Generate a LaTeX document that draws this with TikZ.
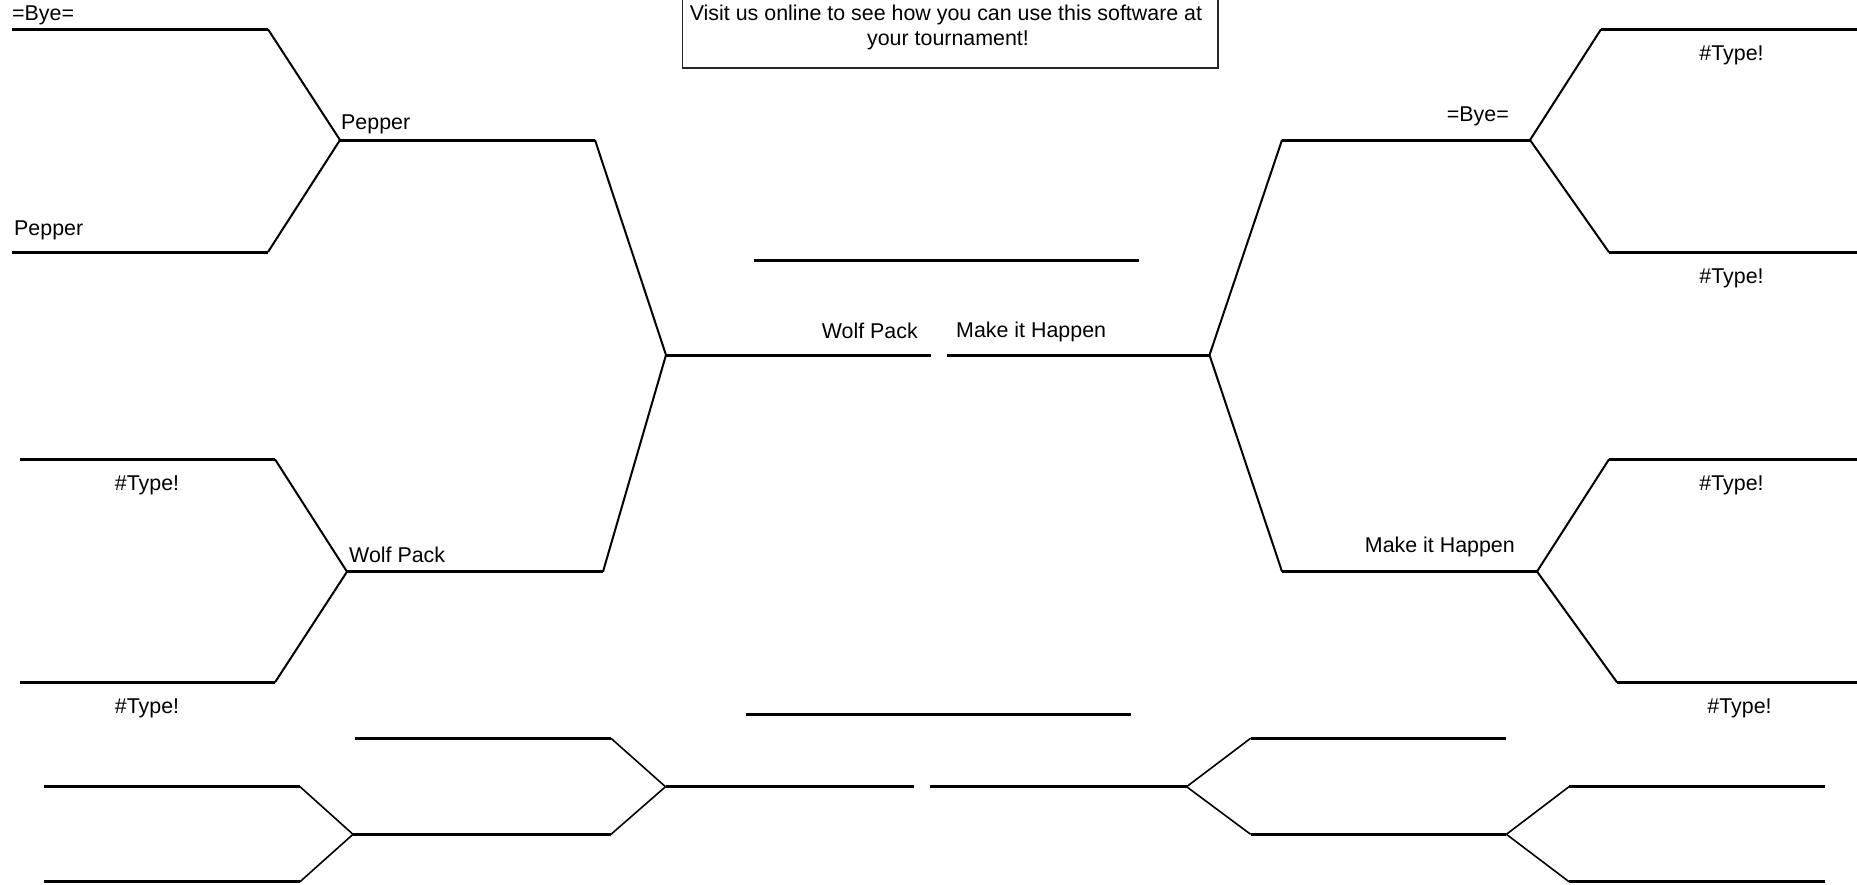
\documentclass[tikz,border=0pt]{standalone}
\usepackage{fontspec}
\setmainfont{Liberation Sans}
\begin{document}
\begin{tikzpicture}[x=1pt,y=-1pt,
  hline/.style={line width=3pt},
  diag/.style={line width=2pt},
  sdiag/.style={line width=1.6pt},
  lbl/.style={inner sep=0pt,font=\fontsize{21.4}{25}\selectfont},
  infobox/.style={draw=black!85,line width=1.2pt}]
\useasboundingbox (0,0) rectangle (1857,884);
\clip (0,0) rectangle (1857,884);
% info box
\draw[infobox] (682.5,-10) rectangle (1218,68);
\node[lbl,anchor=base] (info1) at (946,20.7) {Visit us online to see how you can use this software at};
\node[lbl,anchor=base] (info2) at (948,45.7) {your tournament!};
% ---- left upper
\coordinate (a1) at (12,29.3);   \coordinate (a1e) at (268,29.3);
\coordinate (a2) at (12,252);    \coordinate (a2e) at (268,252);
\coordinate (j1) at (340,140);   \coordinate (j1e) at (595,140);
\coordinate (a3) at (20,459.3);  \coordinate (a3e) at (275,459.3);
\coordinate (a4) at (20,682.3);  \coordinate (a4e) at (275,682.3);
\coordinate (j2) at (347,571.7); \coordinate (j2e) at (603,571.7);
\coordinate (cl) at (666,355);   \coordinate (cle) at (930.5,355);
\coordinate (cr) at (1209.5,355);\coordinate (cre) at (947,355);
\coordinate (tp) at (754,260);   \coordinate (tpe) at (1139,260);
% right
\coordinate (b1) at (1857,29.3);  \coordinate (b1e) at (1601,29.3);
\coordinate (b2) at (1857,252.3); \coordinate (b2e) at (1609,252.3);
\coordinate (j3) at (1530,140);   \coordinate (j3e) at (1282,140);
\coordinate (b3) at (1857,459.3); \coordinate (b3e) at (1609,459.3);
\coordinate (b4) at (1857,682.3); \coordinate (b4e) at (1617,682.3);
\coordinate (j4) at (1537,571.5); \coordinate (j4e) at (1282,571.5);
\draw[hline] (a1)--(a1e); \draw[hline] (a2)--(a2e);
\draw[diag] (a1e)--(j1); \draw[diag] (a2e)--(j1);
\draw[hline] (j1)--(j1e); \draw[diag] (j1e)--(cl);
\draw[hline] (a3)--(a3e); \draw[hline] (a4)--(a4e);
\draw[diag] (a3e)--(j2); \draw[diag] (a4e)--(j2);
\draw[hline] (j2)--(j2e); \draw[diag] (j2e)--(cl);
\draw[hline] (cl)--(cle); \draw[hline] (cre)--(cr);
\draw[hline] (tp)--(tpe);
\draw[hline] (b1)--(b1e); \draw[hline] (b2)--(b2e);
\draw[diag] (b1e)--(j3); \draw[diag] (b2e)--(j3);
\draw[hline] (j3)--(j3e); \draw[diag] (j3e)--(cr);
\draw[hline] (b3)--(b3e); \draw[hline] (b4)--(b4e);
\draw[diag] (b3e)--(j4); \draw[diag] (b4e)--(j4);
\draw[hline] (j4)--(j4e); \draw[diag] (j4e)--(cr);
% ---- bottom bracket
\coordinate (m0) at (746,714.3);   \coordinate (m0e) at (1131,714.3);
\coordinate (p1) at (355,738.3);   \coordinate (p1e) at (611,738.3);
\coordinate (p2) at (353,834.3);   \coordinate (p2e) at (611,834.3);
\coordinate (pc) at (665.5,786.7); \coordinate (pce) at (914,786.7);
\coordinate (q1) at (44,786.7);    \coordinate (q1e) at (300,786.7);
\coordinate (q2) at (44,881.7);    \coordinate (q2e) at (300,881.7);
\coordinate (rc) at (1186.6,786.7);\coordinate (rce) at (930,786.7);
\coordinate (r1) at (1250.6,738.3);\coordinate (r1e) at (1506.4,738.3);
\coordinate (r2) at (1250.6,834.3);\coordinate (r2e) at (1506.4,834.3);
\coordinate (s1) at (1569,786.7);  \coordinate (s1e) at (1825,786.7);
\coordinate (s2) at (1569,881.7);  \coordinate (s2e) at (1825,881.7);
\draw[hline] (m0)--(m0e);
\draw[hline] (p1)--(p1e); \draw[sdiag] (p1e)--(pc);
\draw[hline] (p2)--(p2e); \draw[sdiag] (p2e)--(pc);
\draw[hline] (pc)--(pce);
\draw[hline] (q1)--(q1e); \draw[sdiag] (q1e)--(p2);
\draw[hline] (q2)--(q2e); \draw[sdiag] (q2e)--(p2);
\draw[hline] (rce)--(rc);
\draw[sdiag] (rc)--(r1); \draw[hline] (r1)--(r1e);
\draw[sdiag] (rc)--(r2); \draw[hline] (r2)--(r2e);
\draw[sdiag] (r2e)--(s1); \draw[hline] (s1)--(s1e);
\draw[sdiag] (r2e)--(s2); \draw[hline] (s2)--(s2e);
% ---- labels
\node[lbl,anchor=base west] (bye1) at (12,20) {=Bye=};
\node[lbl,anchor=base west] (pep2) at (341,129) {Pepper};
\node[lbl,anchor=base west] (pep1) at (14,235) {Pepper};
\node[lbl,anchor=base] (t1) at (147,490) {\#Type!};
\node[lbl,anchor=base west] (wp2) at (349,562) {Wolf Pack};
\node[lbl,anchor=base] (t2) at (147,713) {\#Type!};
\node[lbl,anchor=base east] (wp3) at (918,338) {Wolf Pack};
\node[lbl,anchor=base west] (mh3) at (956,337) {Make it Happen};
\node[lbl,anchor=base] (t3) at (1731.5,60) {\#Type!};
\node[lbl,anchor=base east] (bye2) at (1509,121.7) {=Bye=};
\node[lbl,anchor=base] (t4) at (1731.5,283) {\#Type!};
\node[lbl,anchor=base] (t5) at (1731.5,490) {\#Type!};
\node[lbl,anchor=base east] (mh2) at (1515,552) {Make it Happen};
\node[lbl,anchor=base] (t6) at (1739.5,713) {\#Type!};
\end{tikzpicture}
\end{document}
